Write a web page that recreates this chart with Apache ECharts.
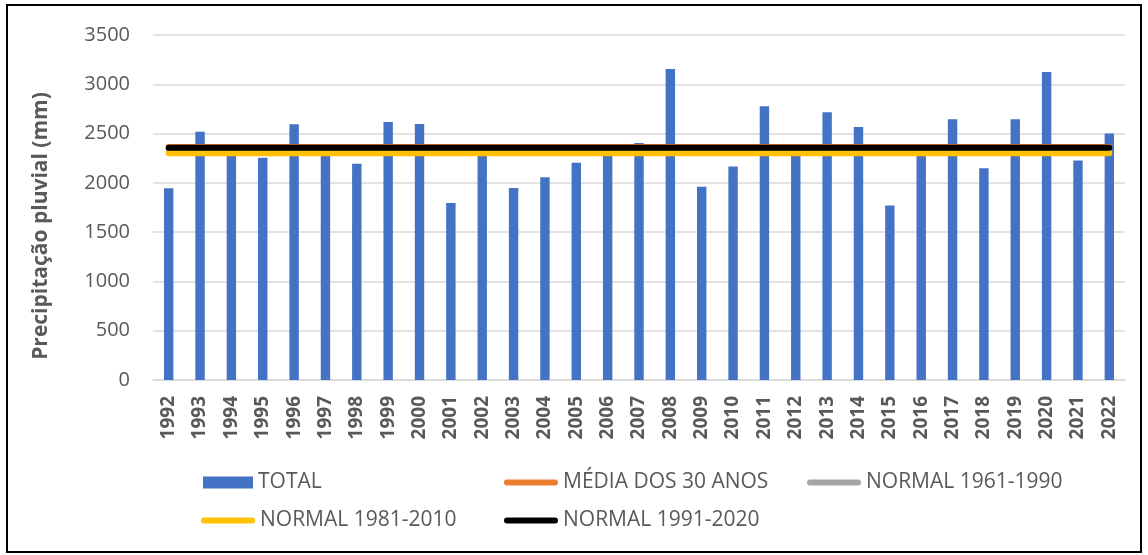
<!DOCTYPE html>
<html>
<head>
<meta charset="utf-8">
<script src="https://cdn.jsdelivr.net/npm/echarts@6/dist/echarts.min.js"></script>
<style>
  html, body { margin: 0; padding: 0; background: #ffffff; }
  #chart { width: 1148px; height: 555px; }
</style>
</head>
<body>
<div id="chart"></div>
<script>
// Annual rainfall totals (mm), 1992-2022
const years = ['1992','1993','1994','1995','1996','1997','1998','1999','2000','2001',
  '2002','2003','2004','2005','2006','2007','2008','2009','2010','2011',
  '2012','2013','2014','2015','2016','2017','2018','2019','2020','2021','2022'];
const totals = [1945, 2519, 2300, 2255, 2594, 2290, 2195, 2617, 2597, 1796,
  2320, 1948, 2056, 2204, 2310, 2405, 3155, 1960, 2165, 2777,
  2340, 2716, 2567, 1770, 2280, 2645, 2148, 2645, 3125, 2226, 2500];

// Reference values (mm)
const media30Anos = 2365;
const normal1961_1990 = 2330;
const normal1981_2010 = 2300;
const normal1991_2020 = 2357;

const yTicks = { min: 0, max: 3500, interval: 500 };

const FONT = '"Open Sans", "DejaVu Sans", sans-serif';
const GREY_TEXT = '#595959';

const flat = v => years.map(() => v);

const refLine = (name, value, color) => ({
  name: name,
  type: 'line',
  data: flat(value),
  symbol: 'none',
  silent: true,
  lineStyle: { color: color, width: 6, cap: 'round' },
  itemStyle: { color: color }
});

const capsule = 'path://M3,0 L51,0 A3,3 0 0 1 51,6 L3,6 A3,3 0 0 1 3,0 Z';

const legendItem = (name, left, top, icon, w, h) => ({
  data: [name],
  left: left,
  top: top,
  icon: icon,
  itemWidth: w,
  itemHeight: h,
  itemGap: 0,
  selectedMode: false,
  padding: 0,
  textStyle: { fontFamily: FONT, fontSize: 21, color: GREY_TEXT }
});

const chart = echarts.init(document.getElementById('chart'), null, { renderer: 'canvas' });

chart.setOption({
  backgroundColor: '#ffffff',
  animation: false,
  grid: { left: 153, right: 23, top: 35, bottom: 175, containLabel: false, outerBoundsMode: 'none' },
  xAxis: {
    type: 'category',
    data: years,
    boundaryGap: true,
    axisLine: { show: true, lineStyle: { color: '#D9D9D9', width: 1.5 } },
    axisTick: { show: false },
    axisLabel: {
      rotate: 90,
      interval: 0,
      margin: 16,
      fontFamily: FONT,
      fontSize: 19,
      fontWeight: 'bold',
      color: GREY_TEXT
    }
  },
  yAxis: {
    type: 'value',
    min: yTicks.min,
    max: yTicks.max,
    interval: yTicks.interval,
    axisLine: { show: false },
    axisTick: { show: false },
    splitLine: { lineStyle: { color: '#D9D9D9', width: 1.5 } },
    axisLabel: {
      margin: 23,
      fontFamily: FONT,
      fontSize: 20,
      color: GREY_TEXT,
      formatter: v => String(v)
    }
  },
  legend: [
    legendItem('TOTAL', 203, 472, 'rect', 50, 12),
    legendItem('MÉDIA DOS 30 ANOS', 504, 472, capsule, 54, 6),
    legendItem('NORMAL 1961-1990', 807, 472, capsule, 54, 6),
    legendItem('NORMAL 1981-2010', 201, 510, capsule, 54, 6),
    legendItem('NORMAL 1991-2020', 504, 510, capsule, 54, 6)
  ],
  series: [
    {
      name: 'TOTAL',
      type: 'bar',
      data: totals,
      barWidth: '30%',
      itemStyle: { color: '#4472C4' }
    },
    refLine('MÉDIA DOS 30 ANOS', media30Anos, '#ED7D31'),
    refLine('NORMAL 1961-1990', normal1961_1990, '#A5A5A5'),
    refLine('NORMAL 1981-2010', normal1981_2010, '#FFC000'),
    refLine('NORMAL 1991-2020', normal1991_2020, '#000000')
  ],
  graphic: [
    {
      type: 'rect',
      shape: { x: 7, y: 5, width: 1134, height: 547 },
      style: { fill: 'none', stroke: '#000000', lineWidth: 2 },
      silent: true
    },
    {
      type: 'text',
      x: 41,
      y: 226,
      rotation: Math.PI / 2,
      style: {
        text: 'Precipitação pluvial (mm)',
        fontFamily: FONT,
        fontSize: 21,
        fontWeight: 'bold',
        fill: GREY_TEXT,
        align: 'center',
        verticalAlign: 'middle'
      },
      silent: true
    }
  ]
});
</script>
</body>
</html>
